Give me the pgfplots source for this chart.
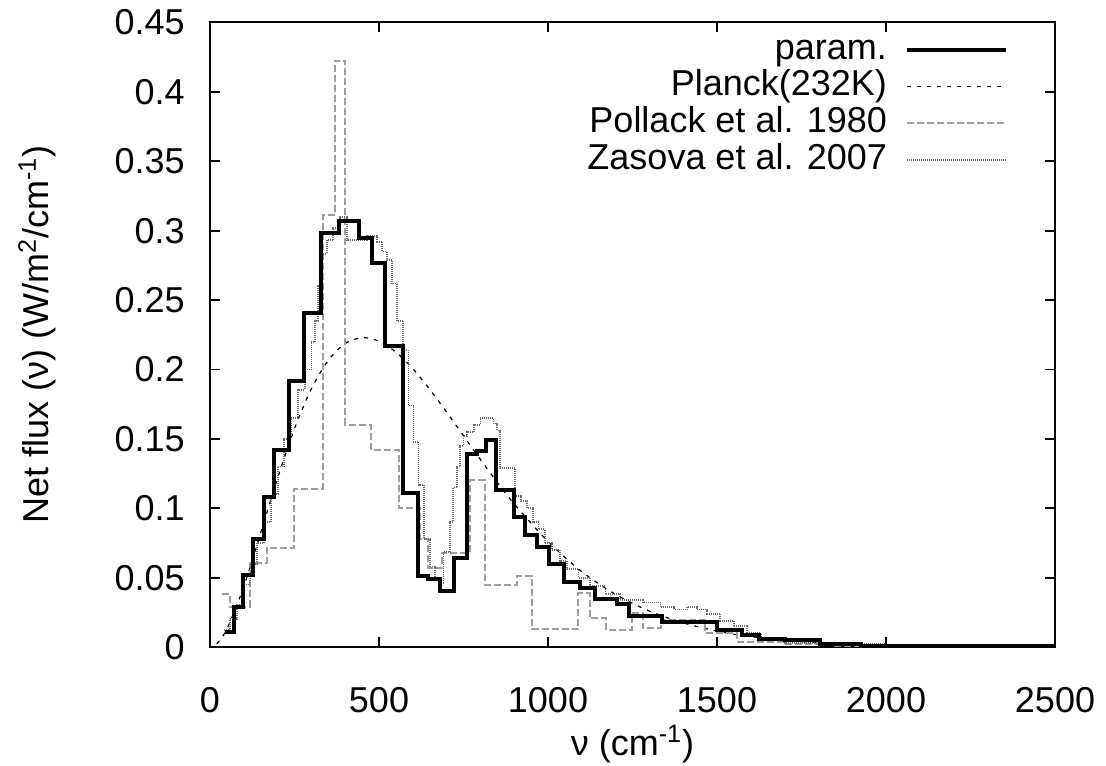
\documentclass[border=0pt]{standalone}
\usepackage{fontspec}
\setmainfont{Liberation Sans}
\usepackage{pgfplots}
\pgfplotsset{compat=1.18}
\definecolor{polgray}{gray}{0.62}
\definecolor{zasgray}{gray}{0.42}
\begin{document}
\fontsize{18}{21.6}\selectfont
\begin{tikzpicture}
\useasboundingbox (0,0) rectangle (553pt,382.5pt);
\begin{axis}[
  at={(105pt,59pt)}, anchor=south west,
  scale only axis, width=422.5pt, height=312.25pt,
  xmin=0, xmax=2500, ymin=0, ymax=0.45,
  xtick={0,500,...,2500},
  ytick={0,0.05,...,0.45},
  yticklabels={0,0.05,0.1,0.15,0.2,0.25,0.3,0.35,0.4,0.45},
  /pgf/number format/assume math mode=true,
  /pgf/number format/1000 sep={},
  tick align=inside,
  major tick length=5pt,
  every tick/.style={black, line width=0.9pt},
  axis line style={line width=1pt},
  xticklabel style={yshift=-14pt},
  yticklabel style={xshift=-6.5pt},
  xlabel={ν (cm\textsuperscript{-1})},
  ylabel={Net flux (ν) (W/m\textsuperscript{2}/cm\textsuperscript{-1})},
  every axis x label/.style={at={(axis description cs:0.5,-0.155)}, anchor=center},
  every axis y label/.style={at={(axis description cs:-0.2047,0.5)}, rotate=90, anchor=center},
  legend plot pos=right,
  legend cell align=right,
  legend image code/.code={\draw[#1] (0pt,0pt) -- (49.5pt,0pt);},
  legend style={draw=none, fill=none, inner sep=0pt, outer sep=0pt,
    at={(axis description cs:1,1)}, anchor=north east, xshift=-23.5pt, yshift=-5.5pt,
    row sep=1.8pt, column sep=0pt,
    nodes={inner sep=0pt, text height=12.9pt, text depth=3.6pt},
    /tikz/every odd column/.append style={column sep=9pt}},
]
\addlegendimage{black, line width=2pt}
\addlegendentry{param.}
\addlegendimage{black, line width=0.6pt, dash pattern=on 2pt off 3pt}
\addlegendentry{Planck(232K)}
\addlegendimage{polgray, line width=1pt, dash pattern=on 3.5pt off 1.5pt}
\addlegendentry{Pollack et al. 1980}
\addlegendimage{zasgray, line width=0.9pt, dash pattern=on 0.5pt off 0.5pt}
\addlegendentry{Zasova et al. 2007}

% Planck 232K
\addplot[forget plot, black, line width=0.6pt, dash pattern=on 2pt off 3pt, smooth] coordinates {
(20,0.0023)(50,0.0129)(100,0.0435)(150,0.0823)(200,0.1218)(250,0.1574)(300,0.1861)(350,0.2066)(400,0.2187)(450,0.2229)(500,0.2204)(550,0.2125)(600,0.2005)(650,0.1857)(700,0.1693)(750,0.1522)(800,0.1351)(850,0.1186)(900,0.1031)(1000,0.0760)(1100,0.0543)(1200,0.0379)(1300,0.0259)(1400,0.0174)(1500,0.0115)(1600,0.0075)(1800,0.0031)(2000,0.0012)(2200,0.0005)(2500,0.0001)};

% Pollack et al. 1980
\addplot[forget plot, const plot, polgray, line width=1pt, dash pattern=on 3.5pt off 1.5pt] coordinates {
(35,0.038)(59,0.029)(118,0.0607)(168,0.0715)(249,0.114)(334,0.311)(370,0.4226)(400,0.160)(476,0.142)(558,0.1005)(622,0.078)(646,0.057)(686,0.068)(770,0.12)(814,0.0446)(908,0.051)(952,0.0127)(1089,0.0386)(1123,0.0206)(1173,0.0122)(1249,0.0242)(1281,0.0134)(1333,0.0194)(1464,0.0098)(1560,0.0038)(1700,0.002)(1850,0.001)(2500,0.001)};

% Zasova et al. 2007
\addplot[forget plot, const plot, zasgray, line width=0.9pt, dash pattern=on 0.5pt off 0.5pt] coordinates {
(40,0.012)(60,0.02)(80,0.03)(100,0.045)(120,0.06)(140,0.075)(160,0.09)(180,0.11)(200,0.13)(220,0.15)(240,0.165)(260,0.185)(280,0.2)(300,0.22)(310,0.235)(320,0.26)(330,0.283)(345,0.293)(365,0.302)(385,0.31)(405,0.293)(464,0.296)(494,0.292)(510,0.285)(523,0.279)(538,0.262)(553,0.235)(572,0.214)(587,0.174)(602,0.148)(617,0.117)(632,0.078)(651,0.058)(665,0.05)(681,0.046)(691,0.0686)(711,0.09)(720,0.115)(730,0.13)(740,0.145)(750,0.152)(760,0.155)(780,0.16)(800,0.165)(839,0.161)(850,0.156)(859,0.129)(903,0.109)(920,0.105)(938,0.1)(955,0.09)(972,0.085)(990,0.075)(1012,0.07)(1035,0.062)(1056,0.056)(1090,0.05)(1125,0.044)(1170,0.038)(1214,0.034)(1280,0.032)(1333,0.029)(1372,0.027)(1412,0.029)(1440,0.027)(1471,0.024)(1510,0.019)(1550,0.015)(1589,0.01)(1629,0.006)(1700,0.003)(1800,0.002)(2000,0.001)(2500,0.0005)};

% param.
\addplot[forget plot, const plot, black, line width=2pt] coordinates {
(44,0.011)(72,0.029)(99,0.052)(128,0.0775)(160,0.108)(190,0.142)(235,0.192)(278,0.241)(328,0.298)(383,0.307)(442,0.295)(479,0.277)(519,0.217)(571,0.111)(614,0.051)(646,0.049)(679,0.0405)(722,0.064)(760,0.139)(790,0.141)(817,0.149)(846,0.113)(898,0.0934)(931,0.0806)(967,0.0722)(1002,0.0595)(1046,0.047)(1096,0.0422)(1140,0.0346)(1204,0.031)(1239,0.0223)(1337,0.0182)(1500,0.0122)(1574,0.0086)(1624,0.0058)(1700,0.005)(1806,0.002)(1925,0.001)(2043,0.0004)(2500,0.0004)};
\end{axis}
\end{tikzpicture}
\end{document}
